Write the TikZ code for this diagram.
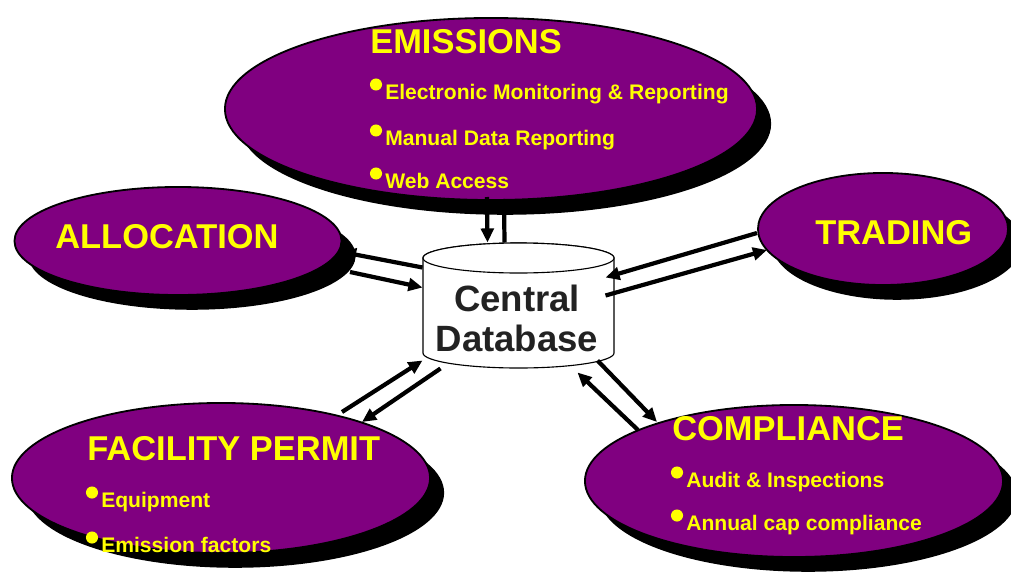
\documentclass[tikz,border=0pt]{standalone}
\usepackage{fontspec}
\setmainfont{Liberation Sans}
\usetikzlibrary{shapes.geometric,shadows,arrows.meta,calc}

\definecolor{dbpurple}{RGB}{128,0,128}
\definecolor{dbyellow}{RGB}{255,255,0}
\definecolor{dbgray}{RGB}{34,34,34}

\tikzset{
  blob/.style={ellipse, draw=black, line width=1.3pt, fill=dbpurple, inner sep=0pt,
    drop shadow={shadow xshift=10pt, shadow yshift=-10.5pt, fill=black, opacity=1}},
  heading/.style={anchor=base west, inner sep=0pt, text=dbyellow,
    font=\bfseries\fontsize{24.5}{30}\selectfont},
  item/.style={anchor=base west, inner sep=0pt, text=dbyellow,
    font=\bfseries\fontsize{15}{18}\selectfont},
  link/.style={line width=3pt, -{Triangle[length=10pt,width=9pt]}},
  dbline/.style={draw=black, line width=0.8pt, fill=white},
}

\begin{document}
\begin{tikzpicture}[x=0.025cm, y=-0.025cm]
  \useasboundingbox (0,0) rectangle (1011,572);

  % the five areas round the database
  \node[blob, minimum width=13.3cm, minimum height=4.55cm] (emis) at (491,109) {};
  \node[blob, minimum width=8.175cm, minimum height=2.7cm] (alloc) at (178,241) {};
  \node[blob, minimum width=6.25cm, minimum height=2.8cm] (trade) at (883,229) {};
  \node[blob, minimum width=10.45cm, minimum height=3.75cm] (fac) at (221,478) {};
  \node[blob, minimum width=10.45cm, minimum height=3.8cm] (comp) at (794,481) {};

  % central database (cylinder drawn by hand)
  \node[minimum width=4.775cm, minimum height=3.125cm, inner sep=0pt] (db) at (518.5,305.5) {};
  \draw[dbline] ($(db.center)+(-95.5,-47.5)$) -- ++(0,95)
    arc[start angle=180, end angle=0, x radius=95.5, y radius=15] -- ++(0,-95)
    arc[start angle=0, end angle=-180, x radius=95.5, y radius=15] -- cycle;
  \draw[dbline] ($(db.center)+(0,-47.5)$) ellipse[x radius=95.5, y radius=15];
  \node[align=center, text=dbgray, font=\bfseries\fontsize{26}{28.5}\selectfont]
        (dblabel) at (517,318.5) {Central\\Database};

  % headings
  \node[heading] (emishead) at (370,53) {EMISSIONS};
  \node[heading] (allochead) at (55,248) {ALLOCATION};
  \node[heading] (tradehead) at (815,244) {TRADING};
  \node[heading] (fachead) at (87,460) {FACILITY PERMIT};
  \node[heading] (comphead) at (672,440) {COMPLIANCE};

  % bullet items
  \node[item] (e1) at (385,99) {Electronic Monitoring \& Reporting};
  \node[item] (e2) at (385,145) {Manual Data Reporting};
  \node[item] (e3) at (385,188) {Web Access};
  \node[item] (f1) at (101,507) {Equipment};
  \node[item] (f2) at (101,552) {Emission factors};
  \node[item] (c1) at (686,487) {Audit \& Inspections};
  \node[item] (c2) at (686,530) {Annual cap compliance};
  \foreach \i in {e1,e2,e3,f1,f2,c1,c2}
    \fill[dbyellow] ($(\i.base west)+(-9,-14.5)$) circle (4.3pt);

  % two-way links
  \draw[link] ($(emis.center)+(-4,88)$) -- ($(db.center)+(-31,-63)$);
  \draw[link] ($(db.center)+(-14,-63)$) -- ($(emis.center)+(13,89)$);
  \draw[link] ($(db.center)+(-96,-38)$) -- ($(alloc.center)+(164,11)$);
  \draw[link] ($(alloc.center)+(172,31)$) -- ($(db.center)+(-96,-18)$);
  \draw[link] ($(trade.center)+(-126,4)$) -- ($(db.center)+(87,-28)$);
  \draw[link] ($(db.center)+(87,-10)$) -- ($(trade.center)+(-116,21)$);
  \draw[link] ($(fac.center)+(121,-66)$) -- ($(db.center)+(-96,55)$);
  \draw[link] ($(db.center)+(-78,63)$) -- ($(fac.center)+(141,-56)$);
  \draw[link] ($(comp.center)+(-156,-51)$) -- ($(db.center)+(59,67)$);
  \draw[link] ($(db.center)+(79,55)$) -- ($(comp.center)+(-137,-59)$);
\end{tikzpicture}
\end{document}
